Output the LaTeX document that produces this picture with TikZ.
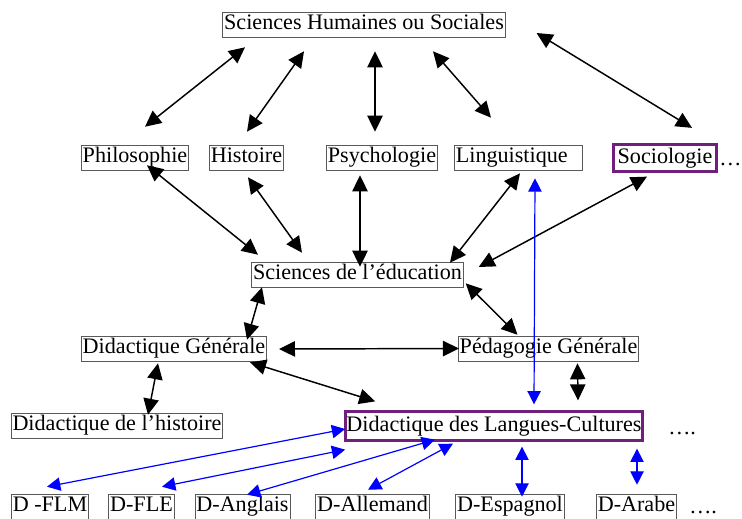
\documentclass[tikz,border=0pt]{standalone}
\usepackage{fontspec}
\setmainfont{Liberation Serif}
\usetikzlibrary{calc,arrows.meta}
\definecolor{lcpurple}{RGB}{112,32,124}
\begin{document}
\begin{tikzpicture}[x=0.75pt, y=-0.75pt, font=\fontsize{16.6}{18}\selectfont,
		box/.style={draw=black!65, line width=0.6pt, inner xsep=1pt, inner ysep=1pt, text height=12.4pt, text depth=4.2pt},
		lc/.style={draw=lcpurple, line width=2.2pt, inner xsep=1pt, inner ysep=0pt, text height=12.4pt, text depth=4.2pt},
		l_b/.style={line width=1.1pt, {Triangle[length=12pt,width=11.5pt]}-{Triangle[length=12pt,width=11.5pt]}},
		l_c/.style={blue, line width=0.9pt, {Triangle[length=10pt,width=10pt]}-{Triangle[length=10pt,width=10pt]}}]
		\useasboundingbox (0,0) rectangle (742,518);
		% disciplines
		\node[box] (shs) at (364,24.5) {Sciences Humaines ou Sociales};
		\node[box] (philo) at (135,157.5) {Philosophie};
		\node[box] (hist) at (246.5,157.5) {Histoire};
		\node[box] (psy) at (382,157.5) {Psychologie};
		\node[box, text width=94pt, align=left] (ling) at (518.5,157.5) {Linguistique};
		\node[lc, minimum width=77pt, minimum height=20.5pt] (socio) at (665,158) {Sociologie};
		\node[anchor=base west, inner sep=0pt] (dots1) at (719,165) {…};
		\node[box] (se) at (357.5,274.5) {Sciences de l’éducation};
		\node[box] (dg) at (174,348.5) {Didactique Générale};
		\node[box] (pg) at (548.5,348.5) {Pédagogie Générale};
		\node[box] (dh) at (117,425.5) {Didactique de l’histoire};
		\node[lc, minimum width=223pt, minimum height=22pt] (dlc) at (494,426) {Didactique des Langues-Cultures};
		\node[anchor=base west, inner sep=0pt] (dots2) at (668,434) {….};
		% languages
		\foreach \n/\x/\t in {flm/50/D -FLM, fle/141.5/D-FLE, angl/242.5/D-Anglais,
			allem/372.5/D-Allemand, esp/510/D-Espagnol, arabe/636.5/D-Arabe} {
			\node[box] (\n) at (\x,506.5) {\t};
		};
		\node[anchor=base west, inner sep=0pt] (dots3) at (689,513) {….};
		% top links
		\draw[l_b] ($(shs.south)+(-119,10)$) -- ($(philo.north)+(10,-18)$);
		\draw[l_b] ($(shs.south)+(-60,14)$) -- ($(hist.north)+(0.5,-13)$);
		\draw[l_b] ($(shs.south)+(11,14)$) -- ($(psy.north)+(-7,-13)$);
		\draw[l_b] ($(shs.south)+(69,14)$) -- ($(ling.north)+(-27.5,-27)$);
		\draw[l_b] ($(shs.east)+(31,8.5)$) -- ($(socio.north)+(27,-15)$);
		% links to sciences de l'education
		\draw[l_b] ($(philo.south)+(12,-5)$) -- ($(se.north)+(-99.5,-7)$);
		\draw[l_b] ($(hist.south)+(1.5,7)$) -- ($(se.north)+(-55.5,-9)$);
		\draw[l_b] ($(psy.south)+(-22,5)$) -- ($(se.north)+(2.5,5)$);
		\draw[l_b] ($(ling.south)+(1.5,3)$) -- ($(se.north)+(92.5,1)$);
		\draw[l_b] ($(socio.south)+(-18,3.5)$) -- ($(se.east)+(15,-7.5)$);
		\draw[l_c] ($(ling.south)+(16.5,8)$) -- ($(dlc.north)+(40,-5.5)$);
		% didactics and pedagogy
		\draw[l_b] ($(se.south)+(-95.5,0)$) -- ($(dg.north)+(73,4)$);
		\draw[l_b] ($(se.south east)+(2,-4)$) -- ($(pg.north)+(-31,-1)$);
		\draw[l_b] ($(dg.east)+(12,0.5)$) -- ($(pg.west)+(1,0)$);
		\draw[l_b] ($(dg.south)+(-16,2)$) -- ($(dh.north)+(31,2)$);
		\draw[l_b] ($(dg.south east)+(-17,1)$) -- ($(dlc.north west)+(31.5,-8.5)$);
		\draw[l_b] ($(pg.south)+(29,2)$) -- ($(dlc.north)+(84,-9.5)$);
		% language didactics
		\draw[l_c] ($(dlc.west)+(1.5,3)$) -- ($(flm.north)+(-3,-7)$);
		\draw[l_c] ($(dlc.south west)+(1.5,7.5)$) -- ($(fle.north)+(20.5,-7)$);
		\draw[l_c] ($(dlc.south)+(-59,-2.5)$) -- ($(angl.north)+(4.5,1)$);
		\draw[l_c] ($(dlc.south)+(-41,1.5)$) -- ($(allem.north)+(-4.5,-4)$);
		\draw[l_c] ($(dlc.south)+(28,4.5)$) -- ($(esp.north)+(12,3)$);
		\draw[l_c] ($(dlc.south)+(143,6.5)$) -- ($(arabe.north)+(0.5,-9)$);
\end{tikzpicture}
\end{document}
